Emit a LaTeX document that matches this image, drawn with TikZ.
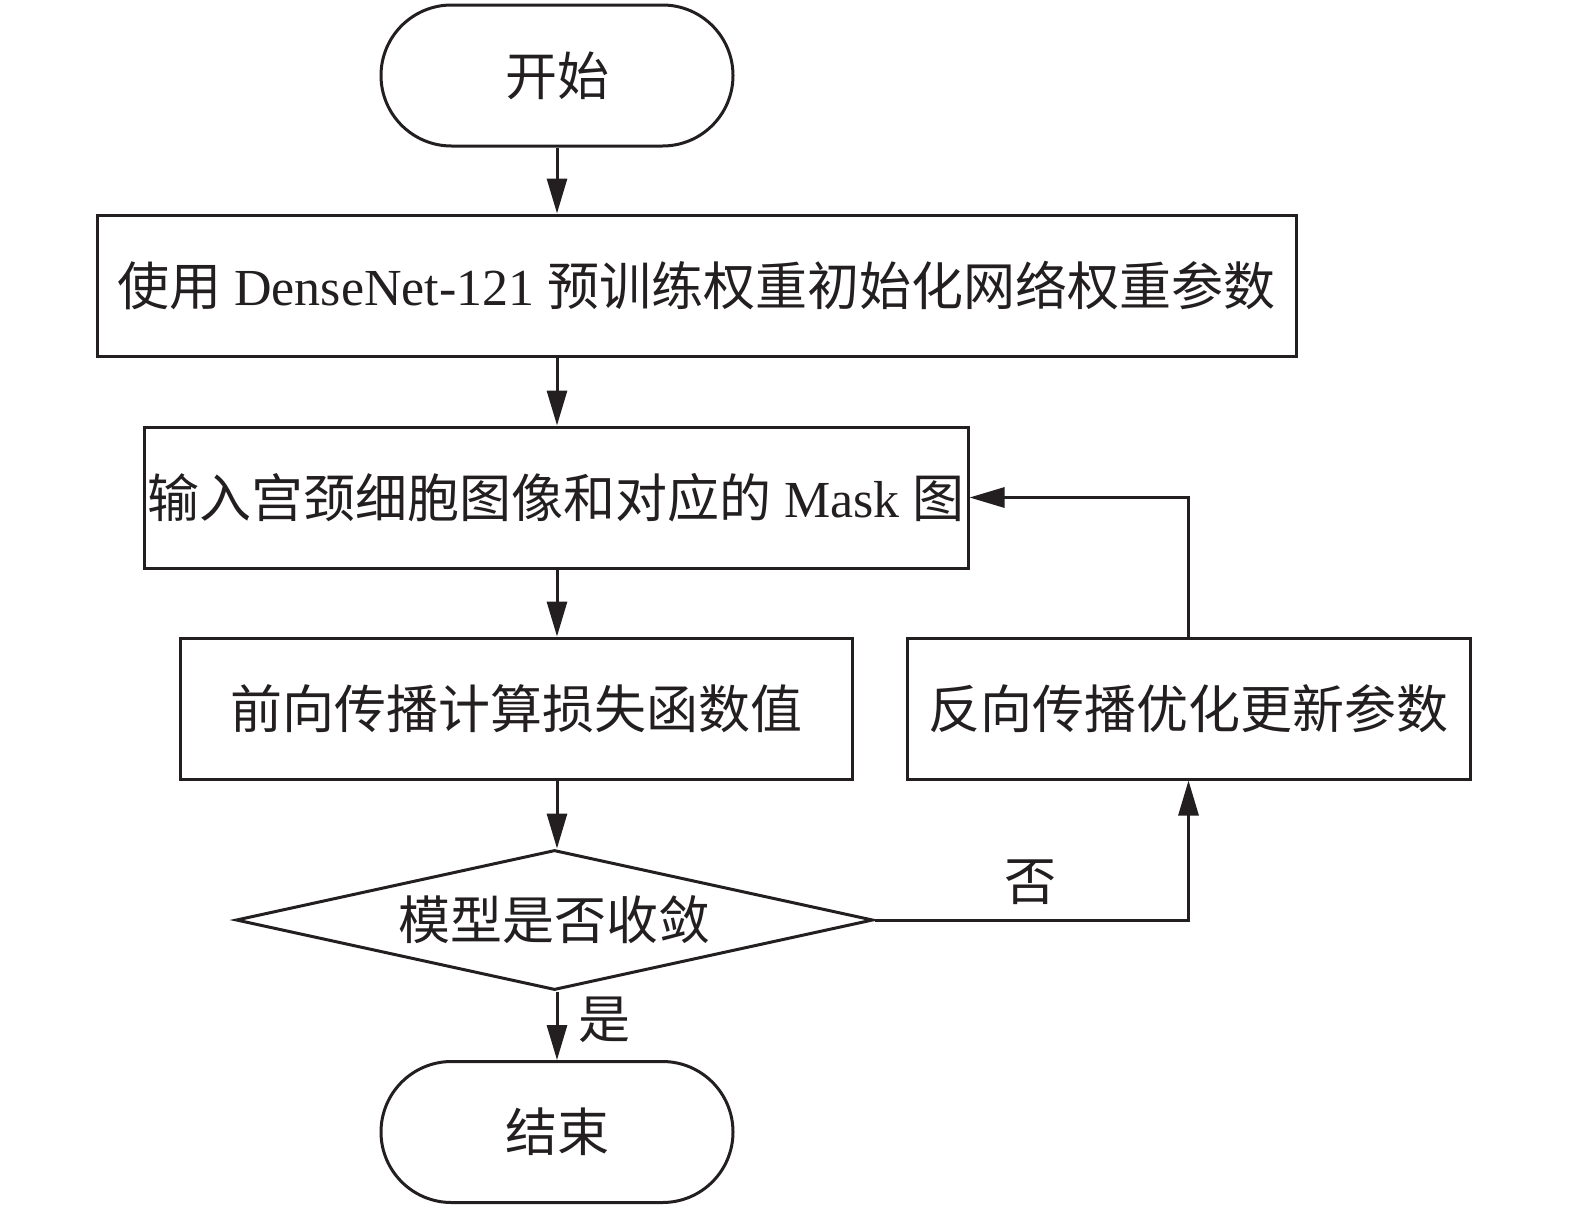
\documentclass[tikz,border=0pt]{standalone}
\usepackage{fontspec}
\setmainfont{Liberation Serif}
\newfontfamily\cjk{Noto Sans CJK SC}
\usetikzlibrary{shapes.geometric,shapes.misc,arrows.meta}
\definecolor{ink}{HTML}{231F20}
\begin{document}
\begin{tikzpicture}[x=1pt,y=-1pt,
  every node/.style={font=\fontsize{52}{62}\selectfont, text=ink},
  proc/.style={draw=ink, line width=3pt, rectangle, minimum height=141pt, inner sep=0pt},
  term/.style={draw=ink, line width=3pt, rounded rectangle, minimum width=352pt, minimum height=141pt, inner sep=0pt},
  decide/.style={draw=ink, line width=3pt, diamond, aspect=4.55, minimum width=637pt, minimum height=140pt, inner sep=0pt},
  flow/.style={draw=ink, line width=3pt, -{Triangle[length=35pt,width=20pt]}},
  lbl/.style={inner sep=0pt}
]
\useasboundingbox (0,0) rectangle (1575,1211);
\node[term] (start) at (557,75.5) {\cjk 开始};
\node[proc, minimum width=1199pt] (init) at (696.5,285.5) {{\cjk 使用} DenseNet-121 {\cjk 预训练权重初始化网络权重参数}};
\node[proc, minimum width=824pt] (input) at (556,497.5) {{\cjk 输入宫颈细胞图像和对应的} Mask {\cjk 图}};
\node[proc, minimum width=672pt] (fwd) at (516,708.5) {\cjk 前向传播计算损失函数值};
\node[proc, minimum width=563pt] (bwd) at (1188.5,708.5) {\cjk 反向传播优化更新参数};
\node[decide] (conv) at (554.5,920) {\cjk 模型是否收敛};
\node[term] (end) at (557,1132) {\cjk 结束};
\draw[flow] (start.south) -- (start.south |- init.north);
\draw[flow] (start.south |- init.south) -- (start.south |- input.north);
\draw[flow] (start.south |- input.south) -- (start.south |- fwd.north);
\draw[flow] (start.south |- fwd.south) -- (start.south |- conv.north);
\draw[flow] (start.south |- conv.south) -- (end.north);
\draw[flow] (conv.east) -| (bwd.south);
\draw[flow] (bwd.north) |- (input.east);
\node[lbl] (no) at (1030,882) {\cjk 否};
\node[lbl] (yes) at (604,1020) {\cjk 是};
\end{tikzpicture}
\end{document}
